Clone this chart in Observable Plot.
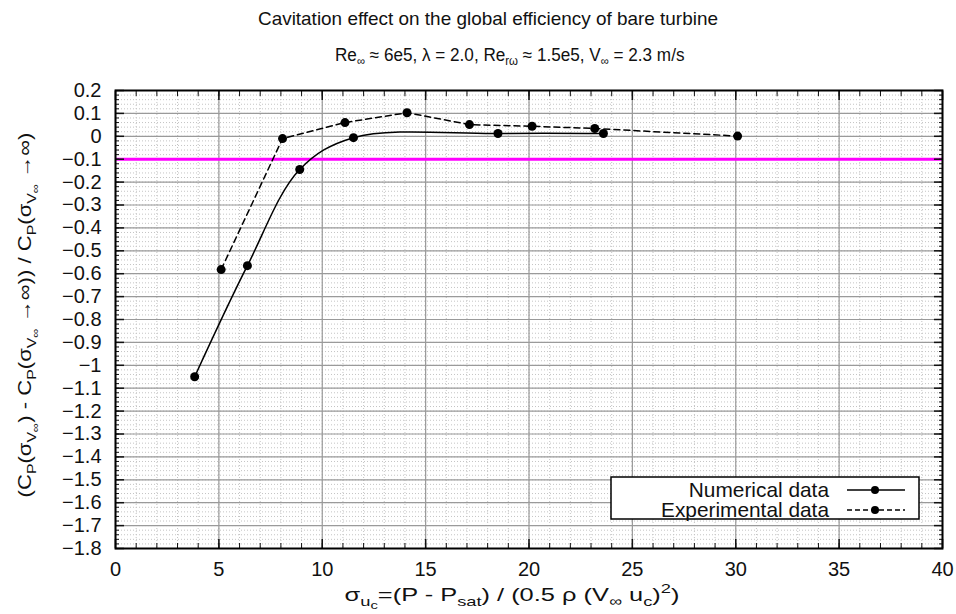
<!DOCTYPE html>
<html><head><meta charset="utf-8">
<script src="https://cdn.jsdelivr.net/npm/d3@7"></script>
<script src="https://cdn.jsdelivr.net/npm/@observablehq/plot@0.6"></script>
<style>
body{margin:0;background:#fff;font-family:"Liberation Sans",Arial,sans-serif;}
#wrap{width:956px;}
#head{position:relative;height:75px;}
.t{position:absolute;white-space:nowrap;color:#111;transform-origin:center;}
.t sub{font-size:12px;vertical-align:-4px;line-height:0}
</style></head><body>
<div id="wrap">
<div id="head">
<div class="t" id="title" style="top:8px;font-size:19px" data-cx="488" data-w="460">Cavitation effect on the global efficiency of bare turbine</div>
<div class="t" id="subtitle" style="top:45px;font-size:18px" data-cx="509" data-w="349">Re<sub>∞</sub> ≈ 6e5, λ = 2.0, Re<sub>rω</sub> ≈ 1.5e5, V<sub>∞</sub> = 2.3 m/s</div>
</div>
<div id="chart"></div>
</div>
<script>
// Numerical data (solid line)
const numX = [3.83, 6.38, 8.91, 11.51, 18.5, 23.6];
const numY = [-1.05, -0.565, -0.145, -0.006, 0.012, 0.012];
// Experimental data (dashed line)
const expX = [5.11, 8.08, 11.1, 14.1, 17.12, 20.15, 23.18, 30.09];
const expY = [-0.582, -0.01, 0.06, 0.103, 0.051, 0.044, 0.034, 0.001];
// Reference threshold
const threshold = [-0.1];
// Ticks
const xMajor = [0, 5, 10, 15, 20, 25, 30, 35, 40];
const xMinor = d3.range(0, 41, 1);
const yMajor = [0.2, 0.1, 0, -0.1, -0.2, -0.3, -0.4, -0.5, -0.6, -0.7, -0.8, -0.9, -1, -1.1, -1.2, -1.3, -1.4, -1.5, -1.6, -1.7, -1.8];
const yMinor = d3.range(-90, 11, 1).map(d => d / 50);
const seriesNames = ["Numerical data", "Experimental data"];

const numerical = numX.map((x, i) => ({x, y: numY[i]}));
const experimental = expX.map((x, i) => ({x, y: expY[i]}));

const fmt = d3.format(".1~f");
const F = 20;

// fit HTML titles
for (const el of document.querySelectorAll(".t")) {
  const w = el.offsetWidth, cx = +el.dataset.cx, tw = +el.dataset.w;
  el.style.left = (cx - w / 2) + "px";
  el.style.transform = `scaleX(${tw / w})`;
}

const plot = Plot.plot({
  width: 956,
  height: 539,
  marginTop: 15,
  marginBottom: 66,
  marginLeft: 115,
  marginRight: 14,
  style: {fontFamily: '"Liberation Sans", Arial, sans-serif', fontSize: F + "px", color: "#111", background: "white"},
  x: {domain: [0, 40], label: null},
  y: {domain: [-1.8, 0.2], label: null},
  marks: [
    Plot.gridX(xMinor, {stroke: "#c4c4c4", strokeOpacity: 1, strokeDasharray: "1,2"}),
    Plot.gridY(yMinor, {stroke: "#c4c4c4", strokeOpacity: 1, strokeDasharray: "1,2"}),
    Plot.gridX(xMajor, {stroke: "#9a9a9a", strokeOpacity: 1, strokeWidth: 1.2}),
    Plot.gridY(yMajor, {stroke: "#9a9a9a", strokeOpacity: 1, strokeWidth: 1.2}),
    Plot.ruleY(threshold, {stroke: "#ff00ff", strokeWidth: 3}),
    Plot.line(numerical, {x: "x", y: "y", curve: "catmull-rom", stroke: "black", strokeWidth: 1.5}),
    Plot.line(experimental, {x: "x", y: "y", stroke: "black", strokeWidth: 1.5, strokeDasharray: "6,4"}),
    Plot.dot(numerical, {x: "x", y: "y", r: 4.5, fill: "black"}),
    Plot.dot(experimental, {x: "x", y: "y", r: 4.5, fill: "black"}),
    Plot.axisX(xMajor, {anchor: "bottom", tickSize: 0, tickPadding: 13, fontSize: F, label: null}),
    Plot.axisX(xMinor, {anchor: "bottom", text: null, tickSize: -5, label: null}),
    Plot.axisX(xMinor, {anchor: "top", text: null, tickSize: -5, label: null}),
    Plot.axisX(xMajor, {anchor: "bottom", text: null, tickSize: -9, strokeWidth: 1.5, label: null}),
    Plot.axisX(xMajor, {anchor: "top", text: null, tickSize: -9, strokeWidth: 1.5, label: null}),
    Plot.axisY(yMajor, {anchor: "left", tickSize: 0, tickPadding: 14, tickFormat: fmt, fontSize: F, label: null}),
    Plot.axisY(yMinor, {anchor: "left", text: null, tickSize: -4, label: null}),
    Plot.axisY(yMinor, {anchor: "right", text: null, tickSize: -4, label: null}),
    Plot.axisY(yMajor, {anchor: "left", text: null, tickSize: -9, strokeWidth: 1.5, label: null}),
    Plot.axisY(yMajor, {anchor: "right", text: null, tickSize: -9, strokeWidth: 1.5, label: null}),
    Plot.frame({stroke: "black", strokeWidth: 2})
  ]
});
document.getElementById("chart").appendChild(plot);

const svg = d3.select(plot);
function richText(g, parts, size) {
  const text = g.append("text").attr("font-size", size).attr("fill", "#111").attr("text-anchor", "middle");
  const shift = {0: 0, 1: size * 0.28, 2: size * 0.42, "-1": -size * 0.4};
  const sz = {0: size, 1: size * 0.72, 2: size * 0.58, "-1": size * 0.72};
  let cur = 0;
  for (const [t, lvl] of parts) {
    text.append("tspan").text(t).attr("font-size", sz[lvl]).attr("dy", shift[lvl] - shift[cur]);
    cur = lvl;
  }
  return text;
}
// X axis label
{
  const g = svg.append("g");
  const t = richText(g, [
    ["σ", 0], ["u", 1], ["c", 2], ["=(P - P", 0], ["sat", 1], [") / (0.5 ρ (V", 0], ["∞", 1], [" u", 0], ["c", 1], [")", 0], ["2", -1], [")", 0]
  ], 19);
  const k = 335 / t.node().getBBox().width;
  g.attr("transform", `translate(512,526) scale(${k},1)`);
}
// Y axis label
{
  const g = svg.append("g");
  const t = richText(g, [
    ["(C", 0], ["P", 1], ["(σ", 0], ["V", 1], ["∞", 2], [") - C", 0], ["P", 1], ["(σ", 0], ["V", 1], ["∞", 2], [" →∞)) / C", 0], ["P", 1], ["(σ", 0], ["V", 1], ["∞", 2], [" →∞)", 0]
  ], 19);
  const k = 365 / t.node().getBBox().width;
  g.attr("transform", `translate(31,240) rotate(-90) scale(${k},1)`);
}

// Legend
const lg = svg.append("g").attr("transform", "translate(611,402)");
lg.append("rect").attr("width", 308).attr("height", 42).attr("fill", "white").attr("stroke", "black").attr("stroke-width", 1.5);
const texts = seriesNames.map((name, i) => {
  const yy = 13 + i * 20;
  const g = lg.append("g").attr("transform", `translate(218,${yy})`);
  const t = g.append("text").attr("dy", "0.35em").attr("text-anchor", "end").attr("font-size", 20).attr("fill", "#111").text(name);
  lg.append("line").attr("x1", 236).attr("x2", 294).attr("y1", yy).attr("y2", yy).attr("stroke", "black").attr("stroke-width", 1.3).attr("stroke-dasharray", i ? "5,3" : null);
  lg.append("circle").attr("cx", 264).attr("cy", yy).attr("r", 4).attr("fill", "black");
  return {g, t, yy};
});
const kL = 169 / texts[1].t.node().getBBox().width;
texts.forEach(({g, yy}) => g.attr("transform", `translate(218,${yy}) scale(${kL},1)`));
</script>
</body></html>
